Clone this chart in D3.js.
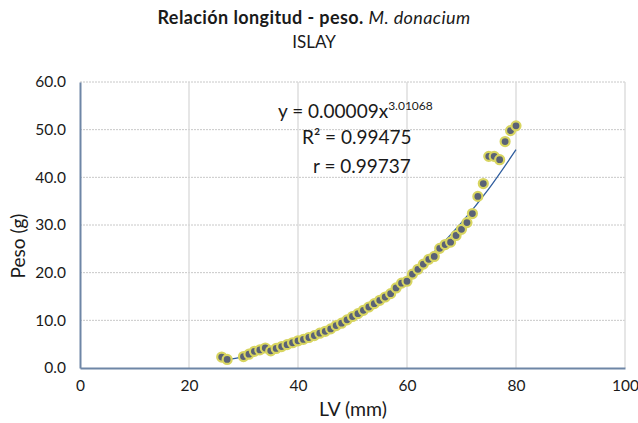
<!DOCTYPE html>
<html>
<head>
<meta charset="utf-8">
<script src="https://cdn.jsdelivr.net/npm/d3@7"></script>
<style>
  body { margin: 0; background: #fff; }
  text { font-family: Lato, "Open Sans", sans-serif; fill: #1a1a1a; }
</style>
</head>
<body>
<div id="chart"></div>
<script>
// data
var lengths = [26, 27, 30, 31, 32, 33, 34, 35, 36, 37, 38, 39, 40, 41, 42, 43, 44, 45, 46, 47, 48, 49, 50,
               51, 52, 53, 54, 55, 56, 57, 58, 59, 60, 61, 62, 63, 64, 65, 66, 67, 68, 69, 70,
               71, 72, 73, 74, 75, 76, 77, 78, 79, 80];
var weights = [2.3, 1.8, 2.4, 2.9, 3.5, 3.8, 4.2, 3.6, 4.1, 4.5, 4.9, 5.3, 5.7, 6.0, 6.4, 6.8, 7.3, 7.7, 8.2, 8.9, 9.4, 10.1, 10.8,
               11.4, 12.1, 12.8, 13.5, 14.2, 14.9, 15.6, 16.8, 17.8, 18.2, 19.7, 20.7, 21.8, 22.8, 23.4, 25.1, 25.9, 26.4, 27.8, 29.1,
               30.5, 32.4, 36.0, 38.7, 44.4, 44.4, 43.7, 47.5, 49.8, 50.8];

// trend line (power fit) as drawn in the picture
var trendX = [27, 30, 35, 40, 45, 50, 55, 60, 65, 70, 75, 80];
var trendY = [1.7, 2.4, 3.9, 5.7, 8.1, 11.1, 14.8, 19.2, 24.4, 30.5, 37.6, 45.8];

var xTicks = [0, 20, 40, 60, 80, 100];
var yTicks = [0, 10, 20, 30, 40, 50, 60];

var margin = {top: 82, right: 13, bottom: 55, left: 80},
    width = 638 - margin.left - margin.right,
    height = 423 - margin.top - margin.bottom;

var svg = d3.select("#chart")
  .append("svg")
    .attr("width", 638)
    .attr("height", 423);

var g = svg.append("g")
    .attr("transform", "translate(" + margin.left + "," + margin.top + ")");

var x = d3.scaleLinear().domain([0, 100]).range([0, width]);
var y = d3.scaleLinear().domain([0, 60]).range([height, 0]);

// gridlines
g.append("g").selectAll("line")
  .data(yTicks.slice(1))
  .enter().append("line")
    .attr("x1", 0).attr("x2", width)
    .attr("y1", function (d) { return y(d); })
    .attr("y2", function (d) { return y(d); })
    .attr("stroke", "#c8c8c8")
    .attr("stroke-dasharray", "2,1");

g.append("g").selectAll("line")
  .data(xTicks.slice(1))
  .enter().append("line")
    .attr("x1", function (d) { return x(d); })
    .attr("x2", function (d) { return x(d); })
    .attr("y1", 0).attr("y2", height)
    .attr("stroke", "#d9d9d9")
    .attr("stroke-width", 1.3);

// axes
var xAxis = g.append("g")
    .attr("transform", "translate(0," + height + ")")
    .call(d3.axisBottom(x).tickValues(xTicks).tickSize(0).tickPadding(12));
var yAxis = g.append("g")
    .call(d3.axisLeft(y).tickValues(yTicks).tickSize(0).tickPadding(14).tickFormat(d3.format(".1f")));

[xAxis, yAxis].forEach(function (a) {
  a.select(".domain").attr("stroke", "#6e86a6").attr("stroke-width", 2);
  a.selectAll("text").style("font-size", "15.5px").attr("fill", "#1a1a1a");
});

// trend line
g.append("path")
  .datum(trendX.map(function (d, i) { return [d, trendY[i]]; }))
  .attr("fill", "none")
  .attr("stroke", "#2f5d9e")
  .attr("stroke-width", 1.3)
  .attr("d", d3.line()
    .x(function (d) { return x(d[0]); })
    .y(function (d) { return y(d[1]); })
    .curve(d3.curveMonotoneX));

// points
g.append("g")
  .selectAll("circle")
  .data(lengths)
  .enter()
  .append("circle")
    .attr("cx", function (d) { return x(d); })
    .attr("cy", function (d, i) { return y(weights[i]); })
    .attr("r", 4.5)
    .attr("fill", "#5a6276")
    .attr("stroke", "#d8d560")
    .attr("stroke-width", 2.2);

// titles
var title = svg.append("text")
    .attr("x", 314).attr("y", 24)
    .attr("text-anchor", "middle")
    .style("font-size", "18px")
    .style("letter-spacing", "0.4px");
title.append("tspan").style("font-weight", "bold").text("Relación longitud - peso. ");
title.append("tspan").style("font-style", "italic").text("M. donacium");

svg.append("text")
    .attr("x", 314).attr("y", 48)
    .attr("text-anchor", "middle")
    .style("font-size", "17px")
    .text("ISLAY");

svg.append("text")
    .attr("x", 353).attr("y", 416)
    .attr("text-anchor", "middle")
    .style("font-size", "19.5px")
    .text("LV (mm)");

svg.append("text")
    .attr("transform", "translate(25,246) rotate(-90)")
    .attr("text-anchor", "middle")
    .style("font-size", "19px")
    .text("Peso (g)");

// equation labels
var eq = svg.append("text")
    .attr("x", 278).attr("y", 118)
    .style("font-size", "19px");
eq.append("tspan").text("y = 0.00009x");
eq.append("tspan").attr("dy", -8).style("font-size", "12px").text("3.01068");

svg.append("text")
    .attr("x", 302).attr("y", 144)
    .style("font-size", "19px")
    .text("R² = 0.99475");

svg.append("text")
    .attr("x", 313).attr("y", 173)
    .style("font-size", "19px")
    .text("r = 0.99737");
</script>
</body>
</html>
